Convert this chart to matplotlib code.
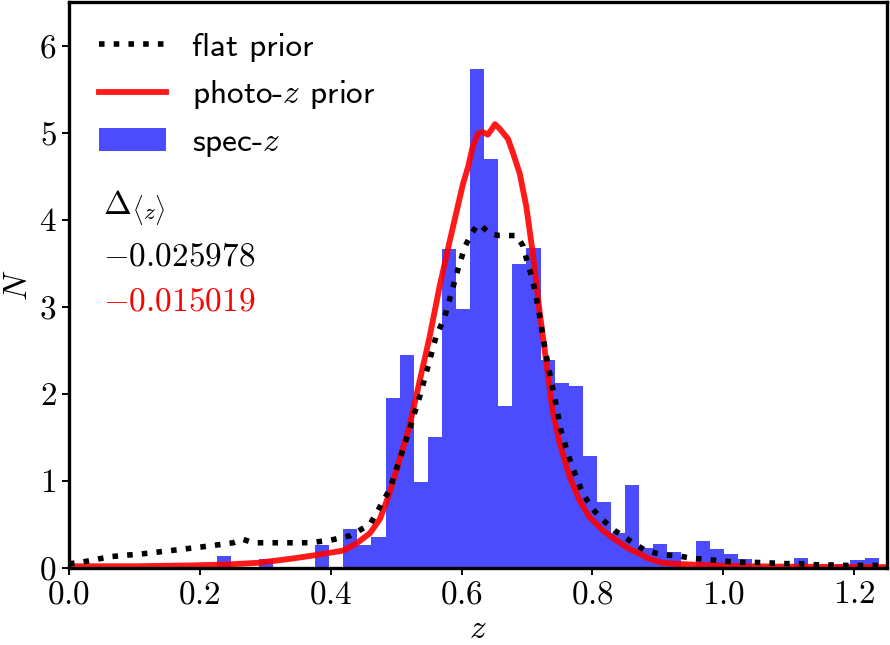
import numpy as np
import matplotlib
matplotlib.use("Agg")
import matplotlib.pyplot as plt
from matplotlib.ticker import FuncFormatter

plt.rcParams['mathtext.fontset'] = 'cm'
plt.rcParams['font.family'] = ['cmss10', 'DejaVu Sans']
plt.rcParams['font.size'] = 12

# spec-z histogram (density), 47 bins between spec_lo and spec_hi
spec_lo, spec_hi = 0.2255, 1.2374
spec_N = [0.14, 0, 0, 0.10, 0, 0, 0, 0.26, 0, 0.45, 0.26, 0.36, 1.95, 2.45,
          0.99, 1.50, 3.66, 2.98, 5.73, 4.70, 1.86, 3.49, 3.68, 2.39, 2.13,
          2.09, 1.29, 0.76, 0.40, 0.95, 0.23, 0.28, 0.18, 0, 0.31, 0.22, 0.16,
          0.10, 0, 0, 0, 0.11, 0, 0, 0.05, 0.09, 0.11]

# flat prior curve
flat_z = [0.0, 0.015, 0.063, 0.115, 0.167, 0.217, 0.251, 0.266, 0.281, 0.317,
          0.368, 0.400, 0.429, 0.46, 0.475, 0.49, 0.505, 0.52, 0.536, 0.551,
          0.561, 0.574, 0.587, 0.594, 0.605, 0.615, 0.625, 0.632, 0.643, 0.658,
          0.671, 0.684, 0.694, 0.701, 0.709, 0.717, 0.722, 0.729, 0.737, 0.745,
          0.752, 0.762, 0.773, 0.785, 0.80, 0.816, 0.834, 0.849, 0.864, 0.879,
          0.897, 0.912, 0.93, 0.946, 0.963, 0.979, 0.996, 1.014, 1.03, 1.047,
          1.065, 1.08, 1.098, 1.116, 1.131, 1.15, 1.165, 1.18, 1.20, 1.215,
          1.235, 1.25]
flat_N = [0.05, 0.06, 0.13, 0.165, 0.21, 0.255, 0.29, 0.33, 0.29, 0.29,
          0.29, 0.32, 0.37, 0.50, 0.70, 0.90, 1.24, 1.58, 1.97, 2.38,
          2.66, 2.88, 3.23, 3.42, 3.69, 3.84, 3.95, 3.92, 3.84, 3.82,
          3.82, 3.82, 3.70, 3.50, 3.30, 3.00, 2.77, 2.46, 2.15, 1.85,
          1.58, 1.32, 1.09, 0.86, 0.68, 0.55, 0.43, 0.355, 0.28, 0.21,
          0.17, 0.15, 0.14, 0.12, 0.105, 0.095, 0.085, 0.07, 0.065, 0.065,
          0.06, 0.055, 0.05, 0.05, 0.04, 0.035, 0.035, 0.03, 0.03, 0.03,
          0.03, 0.03]

# photo-z prior curve
photo_z = [0.0, 0.10, 0.19, 0.24, 0.29, 0.343, 0.383, 0.419, 0.439, 0.46,
           0.475, 0.49, 0.505, 0.52, 0.536, 0.551, 0.566, 0.582, 0.594, 0.602,
           0.61, 0.617, 0.625, 0.632, 0.64, 0.645, 0.651, 0.658, 0.671, 0.679,
           0.689, 0.699, 0.709, 0.719, 0.729, 0.739, 0.75, 0.765, 0.78, 0.795,
           0.816, 0.836, 0.856, 0.877, 0.887, 0.907, 0.933, 0.984, 1.035, 1.1,
           1.25]
photo_N = [0.02, 0.02, 0.03, 0.04, 0.06, 0.11, 0.155, 0.20, 0.28, 0.40,
           0.56, 0.86, 1.24, 1.62, 2.15, 2.65, 3.22, 3.76, 4.15, 4.41,
           4.61, 4.84, 4.99, 5.01, 4.98, 5.03, 5.10, 5.05, 4.93, 4.76,
           4.53, 4.15, 3.61, 2.96, 2.39, 1.81, 1.43, 1.05, 0.78, 0.59,
           0.43, 0.32, 0.22, 0.145, 0.105, 0.06, 0.045, 0.03, 0.02, 0.015,
           0.01]

delta_flat = r"$-0.025978$"
delta_photo = r"$-0.015019$"

fig = plt.figure(figsize=(4.45, 3.225), dpi=200)
ax = fig.add_axes([0.0775, 0.1194, 0.919, 0.877])

edges = np.linspace(spec_lo, spec_hi, len(spec_N) + 1)
centers = 0.5 * (edges[:-1] + edges[1:])
ax.plot(flat_z, flat_N, 'k:', lw=2, label=r"flat prior", zorder=3)
ax.plot(photo_z, photo_N, color='r', alpha=0.9, lw=2.1, label=r"photo-$z$ prior", zorder=2)
ax.hist(centers, bins=edges, weights=spec_N, color='b', alpha=0.7,
        label=r"spec-$z$", zorder=1)

ax.set_xlim(0, 1.25)
ax.set_ylim(0, 6.5)
ax.set_xticks([0.0, 0.2, 0.4, 0.6, 0.8, 1.0, 1.2])
ax.set_yticks([0, 1, 2, 3, 4, 5, 6])
ax.xaxis.set_major_formatter(FuncFormatter(lambda v, p: r"$%.1f$" % v))
ax.yaxis.set_major_formatter(FuncFormatter(lambda v, p: r"$%d$" % v))
ax.set_xlabel(r"$z$", labelpad=2)
ax.set_ylabel(r"$N$", labelpad=2)
for s in ax.spines.values():
    s.set_linewidth(1.2)
ax.tick_params(length=2.5, width=0.7, pad=2)

ax.legend(loc='upper left', frameon=False)

ax.text(0.042, 0.635, r"$\Delta_{\langle z\rangle}$", transform=ax.transAxes,
        va='center', ha='left', fontsize=12)
ax.text(0.042, 0.55, delta_flat, transform=ax.transAxes,
        va='center', ha='left', fontsize=12, color='k')
ax.text(0.042, 0.47, delta_photo, transform=ax.transAxes,
        va='center', ha='left', fontsize=12, color='r')

fig.savefig('out.png', dpi=200)
